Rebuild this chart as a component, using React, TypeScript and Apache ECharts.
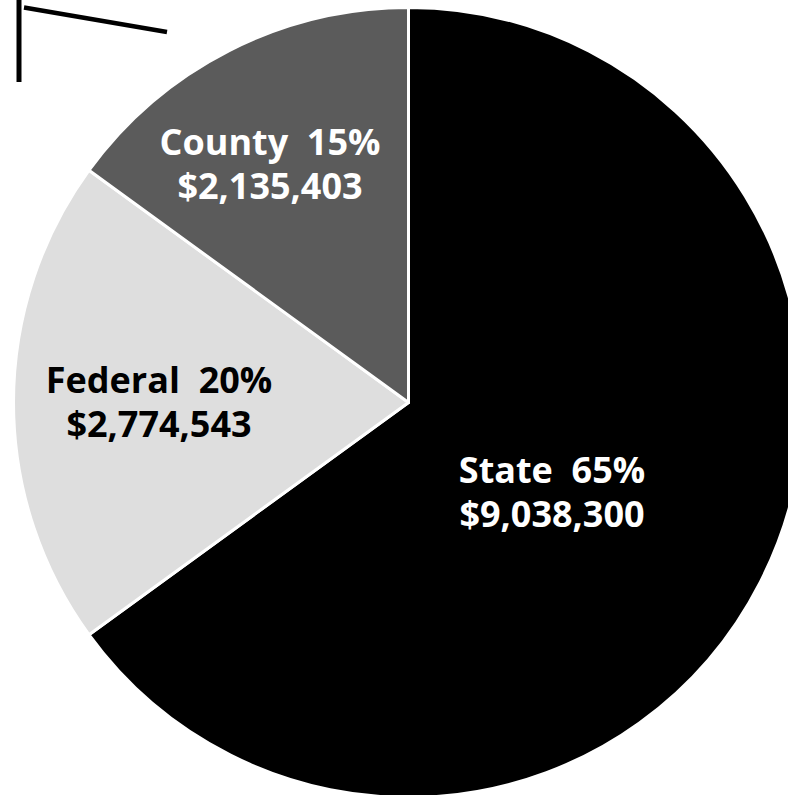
import React, { useEffect, useRef } from "react";
import * as echarts from "echarts";

const categories = ["State", "Federal", "County"];
const percents = [65, 20, 15];
const amounts = [9038300, 2774543, 2135403];
const colors = ["#000000", "#dedede", "#5b5b5b"];
const labelColors = ["#ffffff", "#000000", "#ffffff"];
const labelCenters: [number, number][] = [
  [552, 491],
  [159, 401],
  [270, 163],
];

const fmtMoney = (v: number) => "$" + v.toLocaleString("en-US");

export default function App() {
  const ref = useRef<HTMLDivElement>(null);
  useEffect(() => {
    if (!ref.current) return;
    const chart = echarts.init(ref.current, null, { renderer: "svg" });
    chart.setOption({
      animation: false,
      backgroundColor: "#ffffff",
      graphic: [
        {
          type: "line",
          shape: { x1: 19, y1: 0, x2: 19, y2: 82 },
          style: { stroke: "#000", lineWidth: 5 },
        },
        {
          type: "line",
          shape: { x1: 24, y1: 7.5, x2: 167, y2: 32 },
          style: { stroke: "#000", lineWidth: 4.5 },
        },
      ],
      series: [
        {
          type: "pie",
          center: [408.5, 402.5],
          radius: [0, 395],
          startAngle: 90,
          clockwise: true,
          avoidLabelOverlap: false,
          itemStyle: { borderColor: "#ffffff", borderWidth: 3 },
          label: {
            show: true,
            position: "inside",
            fontFamily: "Open Sans",
            fontWeight: "bold",
            fontSize: 36,
            lineHeight: 44,
            align: "center",
            formatter: (p: any) =>
              `${categories[p.dataIndex]}  ${percents[p.dataIndex]}%\n${fmtMoney(amounts[p.dataIndex])}`,
          },
          labelLine: { show: false },
          labelLayout: (p: any) => ({
            x: labelCenters[p.dataIndex][0],
            y: labelCenters[p.dataIndex][1],
            align: "center",
            verticalAlign: "middle",
          }),
          emphasis: { disabled: true },
          data: categories.map((c, i) => ({
            name: c,
            value: percents[i],
            itemStyle: { color: colors[i] },
            label: { color: labelColors[i] },
          })),
        },
      ],
    });
    return () => chart.dispose();
  }, []);
  return (
    <div
      ref={ref}
      style={{ position: "absolute", left: 0, top: 0, width: 788, height: 795 }}
    />
  );
}
